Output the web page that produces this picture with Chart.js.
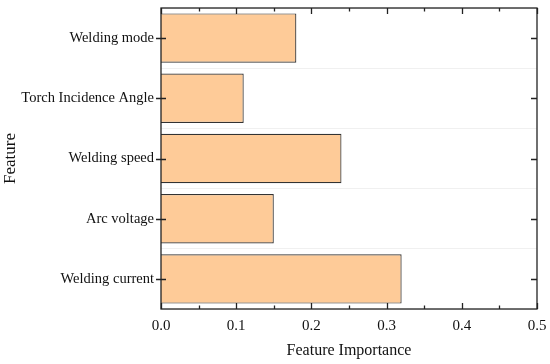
<!DOCTYPE html>
<html>
<head>
<meta charset="utf-8">
<script src="https://cdn.jsdelivr.net/npm/chart.js@4/dist/chart.umd.min.js"></script>
<style>
  html, body { margin: 0; padding: 0; background: #fff; }
  #wrap { width: 550px; height: 364px; }
</style>
</head>
<body>
<div id="wrap"><canvas id="myChart"></canvas></div>
<script>
// DATA
var features = ["Welding mode", "Torch Incidence Angle", "Welding speed", "Arc voltage", "Welding current"];
var importance = [0.18, 0.11, 0.24, 0.15, 0.32];
var xTicks = [0, 0.1, 0.2, 0.3, 0.4, 0.5];

var serif = "'Liberation Serif', 'Times New Roman', serif";

// frame box + inward ticks like origin plots
var frameTicks = {
  id: "frameTicks",
  afterDraw: function (chart) {
    var ctx = chart.ctx;
    var a = chart.chartArea;
    var x = chart.scales.x;
    var y = chart.scales.y;
    ctx.save();
    ctx.strokeStyle = "#222";
    ctx.lineWidth = 1.3;
    ctx.strokeRect(a.left, a.top, a.right - a.left, a.bottom - a.top);
    ctx.beginPath();
    for (var v = 0; v <= 0.5001; v += 0.05) {
      var px = Math.round(x.getPixelForValue(v)) + 0.5;
      var major = Math.abs(v * 10 - Math.round(v * 10)) < 0.01;
      var len = major ? 6 : 3.5;
      ctx.moveTo(px, a.bottom);
      ctx.lineTo(px, a.bottom - len);
      ctx.moveTo(px, a.top);
      ctx.lineTo(px, a.top + len);
    }
    for (var i = 0; i < features.length; i++) {
      var py = Math.round(y.getPixelForValue(i)) + 0.5;
      ctx.moveTo(a.left - 5, py);
      ctx.lineTo(a.left + 5, py);
      ctx.moveTo(a.right, py);
      ctx.lineTo(a.right - 6, py);
    }
    ctx.stroke();
    ctx.restore();
  }
};

new Chart("myChart", {
  type: "bar",
  data: {
    labels: features,
    datasets: [
      {
        data: importance,
        backgroundColor: "#fecb98",
        borderColor: "#333",
        borderWidth: 1.2,
        barPercentage: 0.82,
        categoryPercentage: 1.0,
      },
    ],
  },
  plugins: [frameTicks],
  options: {
    indexAxis: "y",
    responsive: true,
    maintainAspectRatio: false,
    animation: false,
    layout: { padding: { top: 8, right: 13, left: 0, bottom: 4 } },
    plugins: {
      legend: { display: false },
      tooltip: { enabled: false },
    },
    scales: {
      x: {
        min: 0,
        max: 0.5,
        afterBuildTicks: function (s) {
          s.ticks = xTicks.map(function (v) { return { value: v }; });
        },
        afterFit: function (s) {
          s.height = 51;
          s.paddingLeft = 0;
          s.paddingRight = 0;
        },
        grid: { display: false },
        border: { display: false },
        ticks: {
          color: "#111",
          font: { family: serif, size: 15 },
          padding: 0,
          callback: function (v) { return Number(v).toFixed(1); },
        },
        title: {
          display: true,
          text: "Feature Importance",
          color: "#111",
          font: { family: serif, size: 16 },
          padding: { top: 6, bottom: 0 },
        },
      },
      y: {
        afterFit: function (s) {
          s.width = 161;
          s.paddingTop = 0;
          s.paddingBottom = 0;
        },
        grid: { color: "#f0f0f0", drawTicks: false, offset: true },
        border: { display: false },
        ticks: {
          color: "#111",
          font: { family: serif, size: 14.5 },
          padding: 7,
        },
        title: {
          display: true,
          text: "Feature",
          color: "#111",
          font: { family: serif, size: 17 },
          padding: { top: 0, bottom: 0 },
        },
      },
    },
  },
});
</script>
</body>
</html>
